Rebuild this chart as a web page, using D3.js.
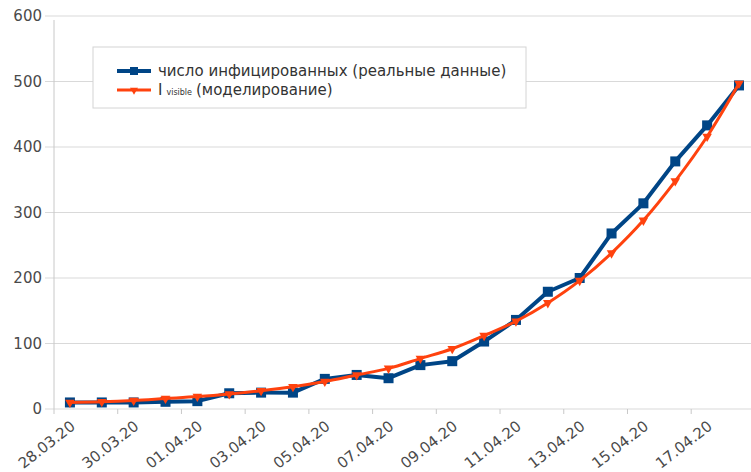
<!DOCTYPE html>
<html>
<head>
<meta charset="utf-8">
<script src="https://cdn.jsdelivr.net/npm/d3@7"></script>
<style>
  body { margin: 0; background: #fff; }
  svg { display: block; }
</style>
</head>
<body>
<div id="chart"></div>
<script>
// dates on the category axis
var dates = ["28.03.20", "29.03.20", "30.03.20", "31.03.20", "01.04.20", "02.04.20", "03.04.20",
             "04.04.20", "05.04.20", "06.04.20", "07.04.20", "08.04.20", "09.04.20", "10.04.20",
             "11.04.20", "12.04.20", "13.04.20", "14.04.20", "15.04.20", "16.04.20", "17.04.20", "18.04.20"];

// real number of infected
var realData = [10, 10, 10, 11, 12, 24, 25, 25, 46, 52, 47, 67, 73, 103, 136, 179, 200, 268, 314, 378, 433, 494];

// model, I visible
var modelData = [10, 11, 13, 16, 19, 23, 28, 34, 42, 52, 62, 77, 92, 112, 134, 162, 196, 238, 288, 348, 416, 497];

var yTicks = [0, 100, 200, 300, 400, 500, 600];

var w = 751;
var h = 472;
var mLeft = 54, mTop = 16, mBottom = 409;
var bandW = 31.86;

var x = d3.scaleBand()
    .domain(dates)
    .range([mLeft, mLeft + dates.length * bandW]);

var y = d3.scaleLinear()
    .domain([0, 600])
    .range([mBottom, mTop]);

var svg = d3.select("#chart")
    .append("svg")
    .attr("width", w)
    .attr("height", h);

var font = "DejaVu Sans, sans-serif";

//Gridlines + y labels
svg.append("g")
    .selectAll("line")
    .data(yTicks)
    .enter()
    .append("line")
    .attr("x1", mLeft - 9)
    .attr("x2", w)
    .attr("y1", d => y(d))
    .attr("y2", d => y(d))
    .attr("stroke", "#d9d9d9")
    .attr("stroke-width", 1);

svg.append("g")
    .selectAll("text")
    .data(yTicks)
    .enter()
    .append("text")
    .attr("x", mLeft - 12)
    .attr("y", d => y(d))
    .attr("dy", "0.36em")
    .attr("text-anchor", "end")
    .style("font-family", font)
    .style("font-size", "15px")
    .style("fill", "#4a4a4a")
    .text(d => d);

//Y axis line
svg.append("line")
    .attr("x1", mLeft).attr("x2", mLeft)
    .attr("y1", mTop + 4).attr("y2", mBottom)
    .attr("stroke", "#c8c8c8");

//X axis ticks every two categories
svg.append("g")
    .selectAll("line")
    .data(dates.filter((d, i) => i % 2 == 0))
    .enter()
    .append("line")
    .attr("x1", d => x(d))
    .attr("x2", d => x(d))
    .attr("y1", mBottom)
    .attr("y2", mBottom + 5)
    .attr("stroke", "#c8c8c8");

svg.append("g")
    .selectAll("text")
    .data(dates.filter((d, i) => i % 2 == 0))
    .enter()
    .append("text")
    .attr("transform", d => "translate(" + (x(d) + x.bandwidth() / 2 + 3) + "," + (mBottom + 15) + ") rotate(-38)")
    .attr("text-anchor", "end")
    .attr("dy", "0.35em")
    .style("font-family", font)
    .style("font-size", "15px")
    .style("fill", "#4a4a4a")
    .text(d => d);

var cx = d => x(d) + x.bandwidth() / 2;

//Real data line
var lineReal = d3.line()
    .x((d, i) => cx(dates[i]))
    .y(d => y(d));

var lineModel = d3.line()
    .x((d, i) => cx(dates[i]))
    .y(d => y(d))
    .curve(d3.curveMonotoneX);

svg.append("path")
    .datum(realData)
    .attr("d", lineReal)
    .attr("fill", "none")
    .attr("stroke", "#004586")
    .attr("stroke-width", 4)
    .attr("stroke-linejoin", "round");

svg.append("g")
    .selectAll("rect")
    .data(realData)
    .enter()
    .append("rect")
    .attr("x", (d, i) => cx(dates[i]) - 5)
    .attr("y", d => y(d) - 5)
    .attr("width", 10)
    .attr("height", 10)
    .attr("fill", "#004586");

svg.append("path")
    .datum(modelData)
    .attr("d", lineModel)
    .attr("fill", "none")
    .attr("stroke", "#ff420e")
    .attr("stroke-width", 3);

var tri = d3.symbol().type(d3.symbolTriangle).size(40);

svg.append("g")
    .selectAll("path")
    .data(modelData)
    .enter()
    .append("path")
    .attr("d", tri)
    .attr("transform", (d, i) => "translate(" + cx(dates[i]) + "," + y(d) + ") rotate(180)")
    .attr("fill", "#ff420e");

//Legend
var legend = svg.append("g");

legend.append("rect")
    .attr("x", 93)
    .attr("y", 47)
    .attr("width", 433)
    .attr("height", 61)
    .attr("fill", "#fff")
    .attr("stroke", "#d4d4d4");

legend.append("line")
    .attr("x1", 117).attr("x2", 151)
    .attr("y1", 71).attr("y2", 71)
    .attr("stroke", "#004586").attr("stroke-width", 4);

legend.append("rect")
    .attr("x", 130).attr("y", 67)
    .attr("width", 8).attr("height", 8)
    .attr("fill", "#004586");

legend.append("line")
    .attr("x1", 117).attr("x2", 151)
    .attr("y1", 90).attr("y2", 90)
    .attr("stroke", "#ff420e").attr("stroke-width", 3);

legend.append("path")
    .attr("d", d3.symbol().type(d3.symbolTriangle).size(28))
    .attr("transform", "translate(134,90) rotate(180)")
    .attr("fill", "#ff420e");

legend.append("text")
    .attr("x", 158).attr("y", 71)
    .attr("dy", "0.35em")
    .style("font-family", font)
    .style("font-size", "15px")
    .style("fill", "#333")
    .text("число инфицированных (реальные данные)");

var t2 = legend.append("text")
    .attr("x", 158).attr("y", 90)
    .attr("dy", "0.35em")
    .style("font-family", font)
    .style("font-size", "15px")
    .style("fill", "#333");

t2.append("tspan").text("I");
t2.append("tspan").style("font-size", "8px").attr("dx", 4).text("visible");
t2.append("tspan").attr("dx", 4).text("(моделирование)");
</script>
</body>
</html>
